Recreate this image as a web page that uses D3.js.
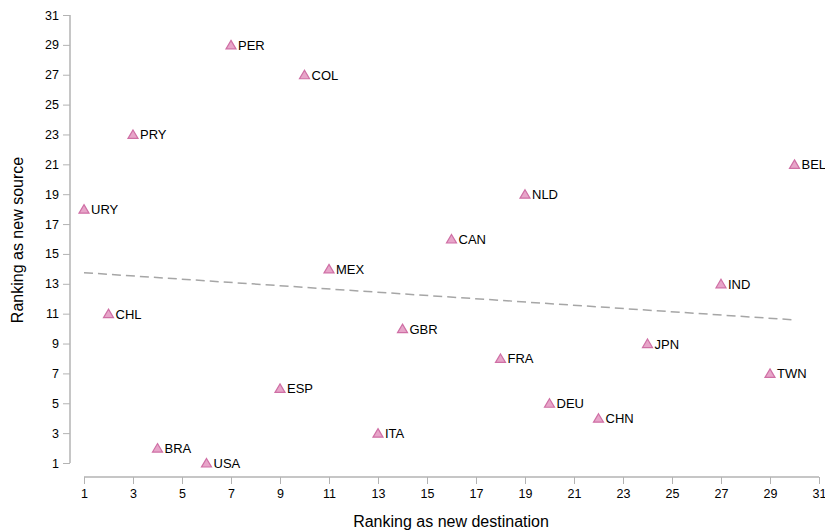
<!DOCTYPE html>
<html>
<head>
<meta charset="utf-8">
<script src="https://cdn.jsdelivr.net/npm/d3@7"></script>
<style>
  body { margin: 0; background: #fff; }
  svg text { font-family: "Liberation Sans", Arial, sans-serif; }
</style>
</head>
<body>
<div id="chart"></div>
<script>
// country codes and their rankings
var countries = ["URY", "CHL", "PRY", "BRA", "USA", "PER", "ESP", "COL", "MEX", "ITA",
                 "GBR", "CAN", "FRA", "NLD", "DEU", "CHN", "JPN", "IND", "TWN", "BEL"];
var destRank = [1, 2, 3, 4, 6, 7, 9, 10, 11, 13, 14, 16, 18, 19, 20, 22, 24, 27, 29, 30];
var sourceRank = [18, 11, 23, 2, 1, 29, 6, 27, 14, 3, 10, 16, 8, 19, 5, 4, 9, 13, 7, 21];
var tickValues = [1, 3, 5, 7, 9, 11, 13, 15, 17, 19, 21, 23, 25, 27, 29, 31];

var canvasWidth = 825;
var canvasHeight = 531;

var svg = d3.select("#chart").append("svg")
    .attr("width", canvasWidth)
    .attr("height", canvasHeight);

var xScale = d3.scaleLinear().domain([1, 31]).range([84, 819]);
var yScale = d3.scaleLinear().domain([1, 31]).range([463, 15]);

var data = countries.map(function(c, i) {
    return {name: c, x: destRank[i], y: sourceRank[i]};
});

// y axis
var yAxis = svg.append("g")
    .attr("transform", "translate(70,0)")
    .call(d3.axisLeft(yScale).tickValues(tickValues).tickSize(7).tickPadding(4));

// x axis
var xAxis = svg.append("g")
    .attr("transform", "translate(0,477)")
    .call(d3.axisBottom(xScale).tickValues(tickValues).tickSize(7).tickPadding(5));

[xAxis, yAxis].forEach(function(a) {
    a.select(".domain").attr("stroke", "#b3b3b3").attr("stroke-width", 1.5);
    a.selectAll(".tick line").attr("stroke", "#b3b3b3");
    a.selectAll(".tick text").attr("fill", "#000").attr("font-size", "12.5px")
        .style("font-family", '"Liberation Sans", Arial, sans-serif');
});
// plain axis lines without outer ticks
xAxis.select(".domain").attr("d", "M84,0H819");
yAxis.select(".domain").attr("d", "M0,15V463");

// linear fit
var mx = d3.mean(destRank), my = d3.mean(sourceRank);
var sxy = d3.sum(data, function(d) { return (d.x - mx) * (d.y - my); });
var sxx = d3.sum(data, function(d) { return (d.x - mx) * (d.x - mx); });
var slope = sxy / sxx;
var intercept = my - slope * mx;
var xExt = d3.extent(destRank);

svg.append("path")
    .datum(xExt)
    .attr("fill", "none")
    .attr("stroke", "#a6a6a6")
    .attr("stroke-width", 1.5)
    .attr("stroke-dasharray", "9,5")
    .attr("d", d3.line()
        .x(function(d) { return xScale(d) })
        .y(function(d) { return yScale(intercept + slope * d) }));

// points
var pts = svg.append("g").selectAll("g")
    .data(data)
    .enter().append("g")
    .attr("transform", function(d) { return "translate(" + xScale(d.x) + "," + yScale(d.y) + ")"; });

pts.append("path")
    .attr("d", "M0,-4.5L5,4L-5,4Z")
    .attr("fill", "#e7a5c9")
    .attr("stroke", "#cf6fa5")
    .attr("stroke-width", 1.2);

pts.append("text")
    .attr("x", 7)
    .attr("y", 5)
    .attr("font-size", "13px")
    .attr("fill", "#000")
    .text(function(d) { return d.name; });

// axis titles
svg.append("text")
    .attr("x", 451)
    .attr("y", 527)
    .attr("text-anchor", "middle")
    .attr("font-size", "16px")
    .text("Ranking as new destination");

svg.append("text")
    .attr("transform", "translate(23,240) rotate(-90)")
    .attr("text-anchor", "middle")
    .attr("font-size", "16px")
    .text("Ranking as new source");
</script>
</body>
</html>
